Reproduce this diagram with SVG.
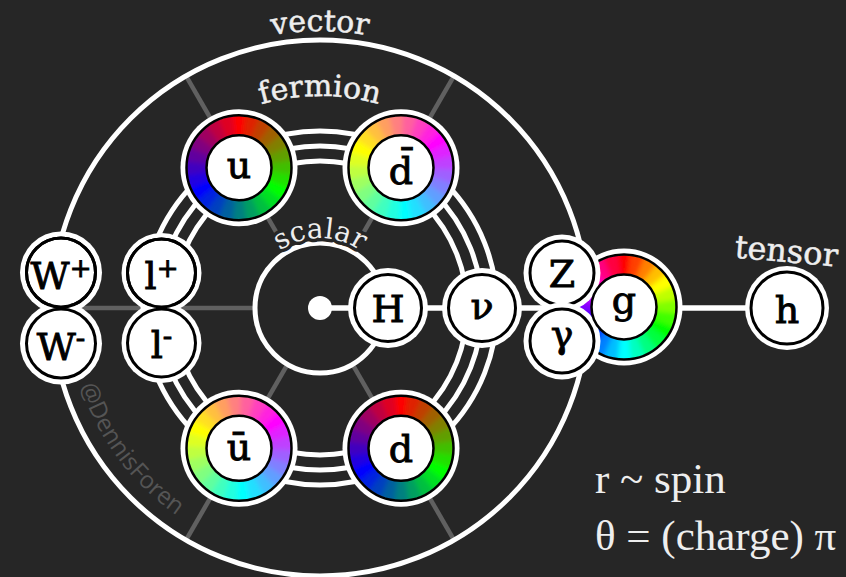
<svg xmlns="http://www.w3.org/2000/svg" width="846" height="577" viewBox="0 0 846 577">
<style>
.spoke{stroke:#606060;stroke-width:4.5;fill:none}
.ring{stroke:#fff;stroke-width:5;fill:none}
.conn{stroke:#fff;stroke-width:5.5;fill:none}
.w{fill:#fff}
.bk{fill:#fff;stroke:#000;stroke-width:3}
.ob{fill:none;stroke:#000;stroke-width:2.5}
.ib{fill:#fff;stroke:#000;stroke-width:2.5}
.seg{fill:none;stroke-width:28;stroke-dasharray:16 344}
.lbl{font-family:"DejaVu Serif",serif;font-size:38px;fill:#000;stroke:#000;stroke-width:0.9px;text-anchor:middle}
.cat{font-family:"DejaVu Serif",serif;font-size:30px;fill:#eee;stroke:#eee;stroke-width:0.5px;text-anchor:middle}
.halo{stroke:#262626;stroke-width:7px;paint-order:stroke;stroke-linejoin:round}
.note{font-family:"Liberation Serif",serif;font-size:43px;fill:#eee}
.wm{font-family:"Open Sans",sans-serif;font-size:24px;fill:#555}
</style>
<defs>
<filter id="smooth" filterUnits="userSpaceOnUse" x="-64" y="-64" width="128" height="128">
<feGaussianBlur stdDeviation="2.6"/>
</filter>
<clipPath id="ann"><circle r="52"/></clipPath>
<g id="rgbRing" clip-path="url(#ann)"><g filter="url(#smooth)">
<circle class="seg" r="42.5" pathLength="360" stroke="#ff0000" stroke-dashoffset="8"/>
<circle class="seg" r="42.5" pathLength="360" stroke="#df2000" stroke-dashoffset="-7"/>
<circle class="seg" r="42.5" pathLength="360" stroke="#bf4000" stroke-dashoffset="-22"/>
<circle class="seg" r="42.5" pathLength="360" stroke="#9f6000" stroke-dashoffset="-37"/>
<circle class="seg" r="42.5" pathLength="360" stroke="#808000" stroke-dashoffset="-52"/>
<circle class="seg" r="42.5" pathLength="360" stroke="#609f00" stroke-dashoffset="-67"/>
<circle class="seg" r="42.5" pathLength="360" stroke="#40bf00" stroke-dashoffset="-82"/>
<circle class="seg" r="42.5" pathLength="360" stroke="#20df00" stroke-dashoffset="-97"/>
<circle class="seg" r="42.5" pathLength="360" stroke="#00ff00" stroke-dashoffset="-112"/>
<circle class="seg" r="42.5" pathLength="360" stroke="#00df20" stroke-dashoffset="-127"/>
<circle class="seg" r="42.5" pathLength="360" stroke="#00bf40" stroke-dashoffset="-142"/>
<circle class="seg" r="42.5" pathLength="360" stroke="#009f60" stroke-dashoffset="-157"/>
<circle class="seg" r="42.5" pathLength="360" stroke="#008080" stroke-dashoffset="-172"/>
<circle class="seg" r="42.5" pathLength="360" stroke="#00609f" stroke-dashoffset="-187"/>
<circle class="seg" r="42.5" pathLength="360" stroke="#0040bf" stroke-dashoffset="-202"/>
<circle class="seg" r="42.5" pathLength="360" stroke="#0020df" stroke-dashoffset="-217"/>
<circle class="seg" r="42.5" pathLength="360" stroke="#0000ff" stroke-dashoffset="-232"/>
<circle class="seg" r="42.5" pathLength="360" stroke="#2000df" stroke-dashoffset="-247"/>
<circle class="seg" r="42.5" pathLength="360" stroke="#4000bf" stroke-dashoffset="-262"/>
<circle class="seg" r="42.5" pathLength="360" stroke="#60009f" stroke-dashoffset="-277"/>
<circle class="seg" r="42.5" pathLength="360" stroke="#800080" stroke-dashoffset="-292"/>
<circle class="seg" r="42.5" pathLength="360" stroke="#9f0060" stroke-dashoffset="-307"/>
<circle class="seg" r="42.5" pathLength="360" stroke="#bf0040" stroke-dashoffset="-322"/>
<circle class="seg" r="42.5" pathLength="360" stroke="#df0020" stroke-dashoffset="-337"/>
</g></g>
<g id="cmyRing" clip-path="url(#ann)"><g filter="url(#smooth)">
<circle class="seg" r="42.5" pathLength="360" stroke="#00ffff" stroke-dashoffset="8"/>
<circle class="seg" r="42.5" pathLength="360" stroke="#20ffdf" stroke-dashoffset="-7"/>
<circle class="seg" r="42.5" pathLength="360" stroke="#40ffbf" stroke-dashoffset="-22"/>
<circle class="seg" r="42.5" pathLength="360" stroke="#60ff9f" stroke-dashoffset="-37"/>
<circle class="seg" r="42.5" pathLength="360" stroke="#80ff80" stroke-dashoffset="-52"/>
<circle class="seg" r="42.5" pathLength="360" stroke="#9fff60" stroke-dashoffset="-67"/>
<circle class="seg" r="42.5" pathLength="360" stroke="#bfff40" stroke-dashoffset="-82"/>
<circle class="seg" r="42.5" pathLength="360" stroke="#dfff20" stroke-dashoffset="-97"/>
<circle class="seg" r="42.5" pathLength="360" stroke="#ffff00" stroke-dashoffset="-112"/>
<circle class="seg" r="42.5" pathLength="360" stroke="#ffdf20" stroke-dashoffset="-127"/>
<circle class="seg" r="42.5" pathLength="360" stroke="#ffbf40" stroke-dashoffset="-142"/>
<circle class="seg" r="42.5" pathLength="360" stroke="#ff9f60" stroke-dashoffset="-157"/>
<circle class="seg" r="42.5" pathLength="360" stroke="#ff8080" stroke-dashoffset="-172"/>
<circle class="seg" r="42.5" pathLength="360" stroke="#ff609f" stroke-dashoffset="-187"/>
<circle class="seg" r="42.5" pathLength="360" stroke="#ff40bf" stroke-dashoffset="-202"/>
<circle class="seg" r="42.5" pathLength="360" stroke="#ff20df" stroke-dashoffset="-217"/>
<circle class="seg" r="42.5" pathLength="360" stroke="#ff00ff" stroke-dashoffset="-232"/>
<circle class="seg" r="42.5" pathLength="360" stroke="#df20ff" stroke-dashoffset="-247"/>
<circle class="seg" r="42.5" pathLength="360" stroke="#bf40ff" stroke-dashoffset="-262"/>
<circle class="seg" r="42.5" pathLength="360" stroke="#9f60ff" stroke-dashoffset="-277"/>
<circle class="seg" r="42.5" pathLength="360" stroke="#8080ff" stroke-dashoffset="-292"/>
<circle class="seg" r="42.5" pathLength="360" stroke="#609fff" stroke-dashoffset="-307"/>
<circle class="seg" r="42.5" pathLength="360" stroke="#40bfff" stroke-dashoffset="-322"/>
<circle class="seg" r="42.5" pathLength="360" stroke="#20dfff" stroke-dashoffset="-337"/>
</g></g>
<g id="hueRing" clip-path="url(#ann)"><g filter="url(#smooth)">
<circle class="seg" r="42.5" pathLength="360" stroke="hsl(0,100%,50%)" stroke-dashoffset="8"/>
<circle class="seg" r="42.5" pathLength="360" stroke="hsl(15,100%,50%)" stroke-dashoffset="-7"/>
<circle class="seg" r="42.5" pathLength="360" stroke="hsl(30,100%,50%)" stroke-dashoffset="-22"/>
<circle class="seg" r="42.5" pathLength="360" stroke="hsl(45,100%,50%)" stroke-dashoffset="-37"/>
<circle class="seg" r="42.5" pathLength="360" stroke="hsl(60,100%,50%)" stroke-dashoffset="-52"/>
<circle class="seg" r="42.5" pathLength="360" stroke="hsl(75,100%,50%)" stroke-dashoffset="-67"/>
<circle class="seg" r="42.5" pathLength="360" stroke="hsl(90,100%,50%)" stroke-dashoffset="-82"/>
<circle class="seg" r="42.5" pathLength="360" stroke="hsl(105,100%,50%)" stroke-dashoffset="-97"/>
<circle class="seg" r="42.5" pathLength="360" stroke="hsl(120,100%,50%)" stroke-dashoffset="-112"/>
<circle class="seg" r="42.5" pathLength="360" stroke="hsl(135,100%,50%)" stroke-dashoffset="-127"/>
<circle class="seg" r="42.5" pathLength="360" stroke="hsl(150,100%,50%)" stroke-dashoffset="-142"/>
<circle class="seg" r="42.5" pathLength="360" stroke="hsl(165,100%,50%)" stroke-dashoffset="-157"/>
<circle class="seg" r="42.5" pathLength="360" stroke="hsl(180,100%,50%)" stroke-dashoffset="-172"/>
<circle class="seg" r="42.5" pathLength="360" stroke="hsl(195,100%,50%)" stroke-dashoffset="-187"/>
<circle class="seg" r="42.5" pathLength="360" stroke="hsl(210,100%,50%)" stroke-dashoffset="-202"/>
<circle class="seg" r="42.5" pathLength="360" stroke="hsl(225,100%,50%)" stroke-dashoffset="-217"/>
<circle class="seg" r="42.5" pathLength="360" stroke="hsl(240,100%,50%)" stroke-dashoffset="-232"/>
<circle class="seg" r="42.5" pathLength="360" stroke="hsl(255,100%,50%)" stroke-dashoffset="-247"/>
<circle class="seg" r="42.5" pathLength="360" stroke="hsl(270,100%,50%)" stroke-dashoffset="-262"/>
<circle class="seg" r="42.5" pathLength="360" stroke="hsl(285,100%,50%)" stroke-dashoffset="-277"/>
<circle class="seg" r="42.5" pathLength="360" stroke="hsl(300,100%,50%)" stroke-dashoffset="-292"/>
<circle class="seg" r="42.5" pathLength="360" stroke="hsl(315,100%,50%)" stroke-dashoffset="-307"/>
<circle class="seg" r="42.5" pathLength="360" stroke="hsl(330,100%,50%)" stroke-dashoffset="-322"/>
<circle class="seg" r="42.5" pathLength="360" stroke="hsl(345,100%,50%)" stroke-dashoffset="-337"/>
</g></g>
<path id="pVector" d="M80.1,169.5 A277,277 0 0 1 559.9,169.5"/>
<path id="pFermion" d="M136.4,202 A212,212 0 0 1 503.6,202"/>
<path id="pScalar" d="M250,308 A70,70 0 0 1 390,308"/>
<path id="pWm" d="M80.3,385.9 A252,252 0 0 0 233.8,544.8"/>
</defs>

<rect width="846" height="577" fill="#262626"/>

<g id="connectors">
<line class="spoke" x1="352.5" y1="364.3" x2="454" y2="540.1"/>
<line class="spoke" x1="287.5" y1="364.3" x2="186" y2="540.1"/>
<line class="spoke" x1="287.5" y1="251.7" x2="186" y2="75.9"/>
<line class="spoke" x1="352.5" y1="251.7" x2="454" y2="75.9"/>
<line class="spoke" x1="255" y1="308" x2="52" y2="308"/>
<circle class="ring" cx="320" cy="308" r="268"/>
<circle class="ring" cx="320" cy="308" r="177"/>
<circle class="ring" cx="320" cy="308" r="162"/>
<circle class="ring" cx="320" cy="308" r="147"/>
<circle class="ring" cx="320" cy="308" r="65"/>
<line class="conn" x1="320" y1="308" x2="787" y2="308"/>
</g>

<g id="labels">
<text class="cat"><textPath href="#pVector" startOffset="50%">vector</textPath></text>
<text class="cat"><textPath href="#pFermion" startOffset="50%">fermion</textPath></text>
<text class="cat halo" style="font-size:28px"><textPath href="#pScalar" startOffset="50%">scalar</textPath></text>
<text class="cat" style="font-size:32px" transform="rotate(5 785 255)" x="786" y="262">tensor</text>
<text class="wm"><textPath href="#pWm">@DennisForen</textPath></text>
</g>

<g id="node-dot"><circle cx="320" cy="308" r="12" class="w"/></g>

<g id="node-H" transform="translate(388,308)">
<circle r="40" class="w"/><circle r="33.5" class="bk"/>
<text class="lbl" y="14">H</text>
</g>
<g id="node-nu" transform="translate(482,308)">
<circle r="40" class="w"/><circle r="33.5" class="bk"/>
<text class="lbl" y="11">ν</text>
</g>

<g id="node-Wp" transform="translate(61,272.5)">
<circle r="41" class="w"/><circle r="34.5" class="bk"/>
<text class="lbl" y="16">W<tspan style="font-size:26px" dy="-12">+</tspan></text>
</g>
<g id="node-Wm" transform="translate(61,343.5)">
<circle r="41" class="w"/><circle r="34.5" class="bk"/>
<text class="lbl" y="16">W<tspan style="font-size:28px" dy="-13">-</tspan></text>
</g>
<g id="node-Wp-outline" transform="translate(61,272.5)"><circle r="34.5" fill="none" stroke="#000" stroke-width="3"/></g>

<g id="node-lp" transform="translate(161.5,273)">
<circle r="40" class="w"/><circle r="34" class="bk"/>
<text class="lbl" y="16">l<tspan style="font-size:26px" dy="-12">+</tspan></text>
</g>
<g id="node-lm" transform="translate(161.5,343)">
<circle r="40" class="w"/><circle r="34" class="bk"/>
<text class="lbl" y="15">l<tspan style="font-size:28px" dy="-13">-</tspan></text>
</g>
<g id="node-lp-outline" transform="translate(161.5,273)"><circle r="34" fill="none" stroke="#000" stroke-width="3"/></g>

<g id="node-u" transform="translate(239,167.7)">
<circle r="58.5" class="w"/>
<use href="#rgbRing" transform="rotate(-90)"/>
<circle r="52.5" class="ob"/><circle r="32.5" class="ib"/>
<text class="lbl" y="10">u</text>
</g>
<g id="node-dbar" transform="translate(401,167.7)">
<circle r="58.5" class="w"/>
<use href="#cmyRing" transform="rotate(85)"/>
<circle r="52.5" class="ob"/><circle r="32.5" class="ib"/>
<text class="lbl" y="16">d̄</text>
</g>
<g id="node-ubar" transform="translate(239,448.3)">
<circle r="58.5" class="w"/>
<use href="#cmyRing" transform="rotate(85)"/>
<circle r="52.5" class="ob"/><circle r="32.5" class="ib"/>
<text class="lbl" y="12">ū</text>
</g>
<g id="node-d" transform="translate(401,448.3)">
<circle r="58.5" class="w"/>
<use href="#rgbRing" transform="rotate(-90)"/>
<circle r="52.5" class="ob"/><circle r="32.5" class="ib"/>
<text class="lbl" y="14">d</text>
</g>

<g id="node-g" transform="translate(624,307)">
<circle r="58.5" class="w"/>
<use href="#hueRing" transform="rotate(-90)"/>
<circle r="52.5" class="ob"/>
</g>
<g id="node-Z" transform="translate(562,273)">
<circle r="38.5" class="w"/><circle r="32" class="bk"/>
<text class="lbl" y="14">Z</text>
</g>
<g id="node-gamma" transform="translate(562,341)">
<circle r="38.5" class="w"/><circle r="32" class="bk"/>
<text class="lbl" y="6">γ</text>
</g>
<g id="node-g-inner" transform="translate(624,307)">
<circle r="32.5" class="ib"/>
<text class="lbl" y="6">g</text>
</g>

<g id="node-h" transform="translate(787,308)">
<circle r="42" class="w"/><circle r="36" class="bk"/>
<text class="lbl" y="15">h</text>
</g>

<g id="legend">
<text class="note" x="595" y="493">r ~ spin</text>
<text class="note" x="595" y="550">θ = (charge) π</text>
</g>
</svg>
